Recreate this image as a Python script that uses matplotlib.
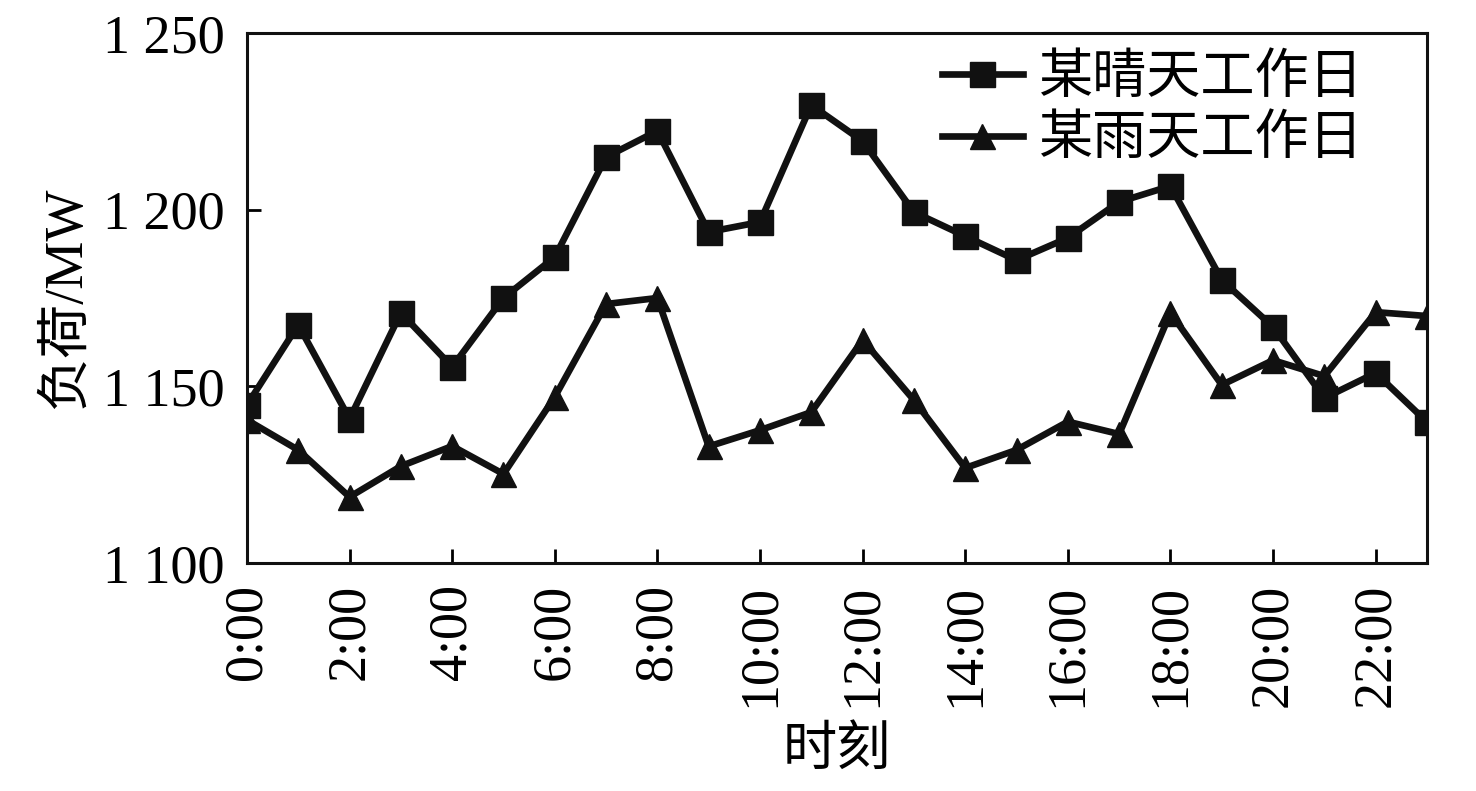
import numpy as np
import matplotlib.pyplot as plt
from matplotlib.ticker import FuncFormatter

plt.rcParams['font.family'] = ['Liberation Serif', 'Noto Sans CJK SC']

hours = np.arange(24)
sunny = [1144.7, 1167.4, 1140.8, 1170.8, 1155.5, 1175.0, 1186.6, 1214.9,
         1222.3, 1193.7, 1196.5, 1229.6, 1219.4, 1199.3, 1192.5, 1185.7,
         1192.0, 1202.2, 1206.7, 1180.1, 1166.8, 1146.7, 1153.8, 1139.9]
rainy = [1140.5, 1132.0, 1118.7, 1127.4, 1133.1, 1125.2, 1147.0, 1173.3,
         1175.0, 1133.0, 1137.6, 1142.7, 1163.1, 1146.1, 1126.9, 1132.0,
         1140.0, 1136.5, 1170.8, 1150.4, 1157.4, 1152.9, 1171.0, 1169.9]
xtick_hours = np.arange(0, 24, 2)
xtick_labels = [f'{h}:00' for h in xtick_hours]
yticks = [1100, 1150, 1200, 1250]

fig = plt.figure(figsize=(14.76, 7.91), dpi=100)
ax = fig.add_axes((0.1673, 0.2882, 0.7995, 0.6701))

ax.plot(hours, sunny, color='#111111', lw=4.8, marker='s', ms=18,
        label='某晴天工作日')
ax.plot(hours, rainy, color='#111111', lw=4.8, marker='^', ms=18,
        label='某雨天工作日')

ax.set_xlim(0, 23)
ax.set_ylim(1100, 1250)
ax.set_xticks(xtick_hours)
ax.set_xticklabels(xtick_labels, rotation=90)
ax.set_yticks(yticks)
ax.yaxis.set_major_formatter(FuncFormatter(lambda v, p: f'{int(v) // 1000} {int(v) % 1000:03d}'))
ax.tick_params(direction='in', length=10, width=2, labelsize=39)
ax.tick_params(axis='x', pad=15)
ax.tick_params(axis='y', pad=16)

for s in ax.spines.values():
    s.set_linewidth(2.2)
    s.set_color('#111111')

ax.set_xlabel('时刻', fontsize=39, labelpad=14)
ax.set_ylabel('负荷/MW', fontsize=39, labelpad=8)

ax.legend(loc='upper right', frameon=False, fontsize=39, handlelength=1.5,
          handletextpad=0.3, labelspacing=0.2, borderaxespad=0.0,
          bbox_to_anchor=(0.965, 1.0))

fig.savefig('out.png', dpi=100)
